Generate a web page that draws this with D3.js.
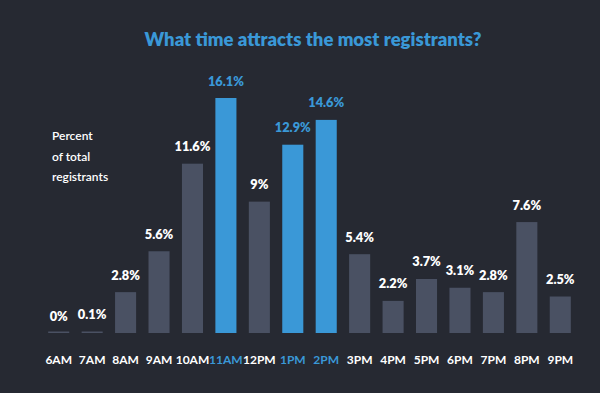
<!DOCTYPE html>
<html>
<head>
<meta charset="utf-8">
<script src="https://cdn.jsdelivr.net/npm/d3@7"></script>
<style>
  html, body { margin: 0; padding: 0; background: #262932; }
  svg { display: block; font-family: Lato, "Open Sans", sans-serif; }
</style>
</head>
<body>
<div id="chart"></div>
<script>
// hours of the day and share of registrants (%)
var hours = ["6AM", "7AM", "8AM", "9AM", "10AM", "11AM", "12PM", "1PM", "2PM",
             "3PM", "4PM", "5PM", "6PM", "7PM", "8PM", "9PM"];
var percents = [0, 0.1, 2.8, 5.6, 11.6, 16.1, 9, 12.9, 14.6,
                5.4, 2.2, 3.7, 3.1, 2.8, 7.6, 2.5];
var labels = ["0%", "0.1%", "2.8%", "5.6%", "11.6%", "16.1%", "9%", "12.9%", "14.6%",
              "5.4%", "2.2%", "3.7%", "3.1%", "2.8%", "7.6%", "2.5%"];
var highlighted = ["11AM", "1PM", "2PM"];

var width = 600, height = 393;
var grey = "#4a5163", blue = "#3a98d7";

var data = hours.map(function(h, i) {
  return {hour: h, value: percents[i], label: labels[i], hi: highlighted.indexOf(h) >= 0};
});

var svg = d3.select("#chart").append("svg")
            .attr("width", width)
            .attr("height", height);

// x band scale over the hours
var x = d3.scaleBand()
          .domain(hours)
          .range([42, 577])
          .paddingInner(0.37)
          .paddingOuter(0.185);

// y scale, baseline at 333
var y = d3.scaleLinear()
          .domain([0, 16.1])
          .range([333, 98]);

// title
svg.append("text")
   .attr("x", 313)
   .attr("y", 46)
   .attr("text-anchor", "middle")
   .attr("fill", blue)
   .style("font-size", "18.5px")
   .style("font-weight", 800)
   .text("What time attracts the most registrants?");

// axis caption
var cap = svg.append("text")
             .attr("x", 52)
             .attr("fill", "#ffffff")
             .style("font-size", "12px")
             .style("font-weight", 600);
["Percent", "of total", "registrants"].forEach(function(t, i) {
  cap.append("tspan").attr("x", 52).attr("y", 140 + i * 20.5).text(t);
});

// bars (zero bars keep a thin line)
svg.selectAll(".bar")
   .data(data)
   .enter().append("rect")
   .attr("class", "bar")
   .attr("x", function(d) { return x(d.hour); })
   .attr("width", x.bandwidth())
   .attr("y", function(d) { return Math.min(y(d.value), y(0) - 1.5); })
   .attr("height", function(d) { return Math.max(y(0) - y(d.value), 1.5); })
   .attr("fill", function(d) { return d.hi ? blue : grey; });

// value labels
svg.selectAll(".val")
   .data(data)
   .enter().append("text")
   .attr("class", "val")
   .attr("x", function(d) { return x(d.hour) + x.bandwidth() / 2; })
   .attr("y", function(d) { return y(d.value) - 12.5; })
   .attr("text-anchor", "middle")
   .attr("fill", function(d) { return d.hi ? blue : "#ffffff"; })
   .style("font-size", "12.8px")
   .style("font-weight", 800)
   .text(function(d) { return d.label; });

// x axis labels
var xAxis = d3.axisBottom(x).tickSize(0).tickPadding(0);
var gx = svg.append("g")
            .attr("transform", "translate(0,355)")
            .call(xAxis);
gx.select(".domain").remove();
gx.selectAll("text")
  .attr("fill", function(d) { return highlighted.indexOf(d) >= 0 ? blue : "#ffffff"; })
  .style("font-family", "Lato, sans-serif")
  .style("font-size", "12px")
  .style("font-weight", 700);
</script>
</body>
</html>
